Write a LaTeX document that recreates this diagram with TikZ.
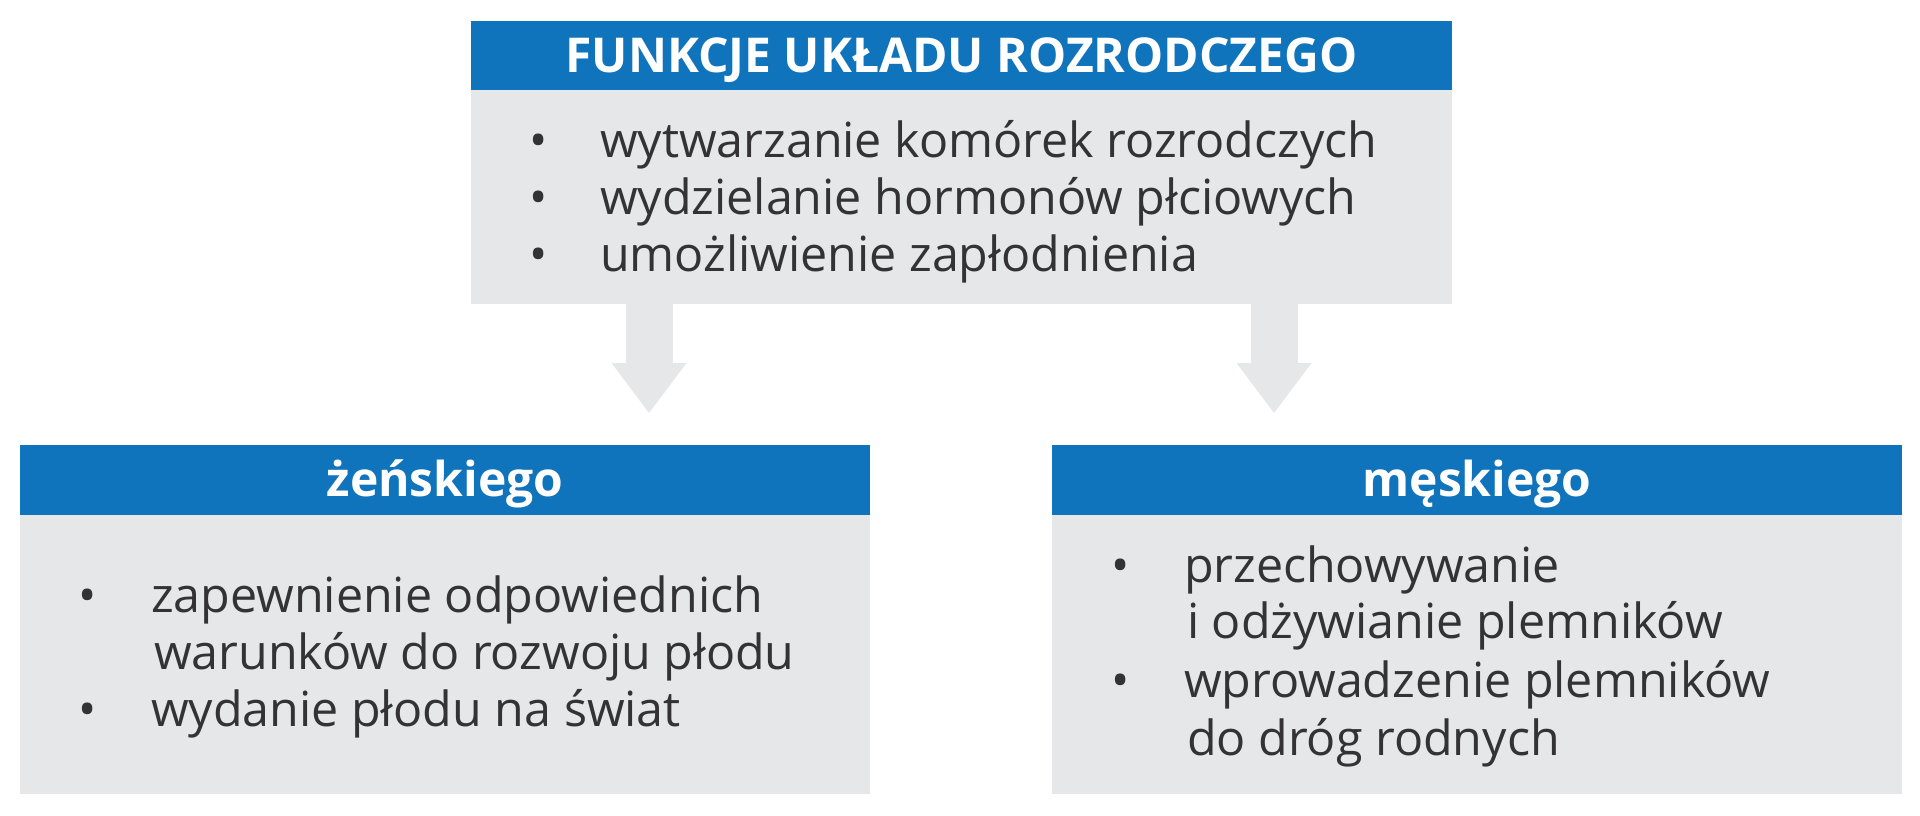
\documentclass[tikz,border=0pt]{standalone}
\usepackage{fontspec}
\setmainfont{Open Sans}
\usetikzlibrary{positioning}
\usetikzlibrary{arrows.meta}
\definecolor{headblue}{RGB}{16,116,188}
\definecolor{boxgrey}{RGB}{230,231,232}
\definecolor{textgrey}{RGB}{51,51,53}
\tikzset{
	every node/.style = {inner sep=0pt, outer sep=0pt},
	head/.style = {fill=headblue, text=white, font=\bfseries\fontsize{24}{29}\selectfont,
		text height=16.5pt, text depth=0pt},
	body/.style = {fill=boxgrey},
	item/.style = {anchor=base west, text=textgrey, font=\fontsize{24.2}{29}\selectfont},
	bigarrow/.style = {draw=boxgrey, line width=23.5pt,
		-{Triangle[width=37.5pt, length=25pt, line width=0pt]}}
}
\begin{document}
\begin{tikzpicture}[x=0.5pt, y=-0.5pt]
		\useasboundingbox (0,0) rectangle (1920,815);
		% top box
		\node[head, anchor=north west, minimum width=490.5pt, minimum height=34.5pt] (top) at (471,21) {FUNKCJE UKŁADU ROZRODCZEGO};
		\node[body, minimum width=490.5pt, minimum height=107pt, below=0pt of top] (topbody) {};
		\foreach \y/\t in {157/wytwarzanie komórek rozrodczych, 214/wydzielanie hormonów płciowych, 271/umożliwienie zapłodnienia} {
			\node[item] at (529,\y) {•};
			\node[item] at (600,\y) {\t};
		}
		
		% arrows
		\coordinate (tipL) at (649,413);
		\coordinate (tipR) at (1274,413);
		\draw[bigarrow] (tipL |- topbody.south) -- (tipL);
		\draw[bigarrow] (tipR |- topbody.south) -- (tipR);
		
		% female
		\node[head, anchor=north west, minimum width=425pt, minimum height=35pt] (fem) at (20,445) {żeńskiego};
		\node[body, minimum width=425pt, minimum height=139.5pt, below=0pt of fem] (fembody) {};
		\node[item] at (78,612) {•};
		\node[item] at (151,612) {zapewnienie odpowiednich};
		\node[item] at (154,669) {warunków do rozwoju płodu};
		\node[item] at (78,726) {•};
		\node[item] at (151,726) {wydanie płodu na świat};
		
		% male
		\node[head, anchor=north west, minimum width=425pt, minimum height=35pt] (mal) at (1052,445) {męskiego};
		\node[body, minimum width=425pt, minimum height=139.5pt, below=0pt of mal] (malbody) {};
		\node[item] at (1111,582) {•};
		\node[item] at (1184,582) {przechowywanie};
		\node[item] at (1187,638) {i odżywianie plemników};
		\node[item] at (1111,697) {•};
		\node[item] at (1184,697) {wprowadzenie plemników};
		\node[item] at (1187,755) {do dróg rodnych};
	\end{tikzpicture}
\end{document}
